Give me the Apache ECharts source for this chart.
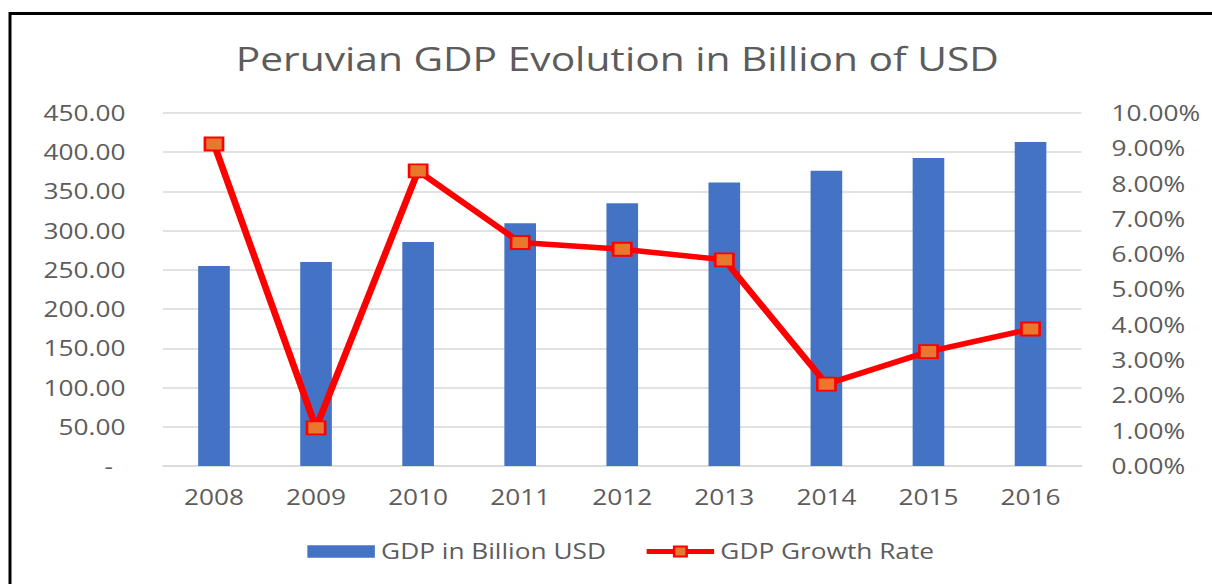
<!DOCTYPE html>
<html>
<head>
<meta charset="utf-8">
<script src="https://cdn.jsdelivr.net/npm/echarts@6/dist/echarts.min.js"></script>
<style>
  html, body { margin: 0; padding: 0; width: 1212px; height: 584px; overflow: hidden; background: #ffffff; }
  /* the chart is laid out in a narrower box and widened, giving the broad letterforms */
  #chart { width: 970px; height: 584px; transform: scaleX(1.2495); transform-origin: 0 0; }
</style>
</head>
<body>
<div id="chart"></div>
<script>
// Peru: GDP (billion USD) and yearly growth rate (%)
const years = ['2008', '2009', '2010', '2011', '2012', '2013', '2014', '2015', '2016'];
const gdpBillionUSD = [255, 260, 285.5, 309.5, 335, 361.5, 376.5, 392.5, 413];
const growthRatePct = [9.12, 1.08, 8.36, 6.33, 6.14, 5.84, 2.32, 3.24, 3.88];

// axis ranges
const gdpAxis = { min: 0, max: 450, interval: 50 };
const rateAxis = { min: 0, max: 10, interval: 1 };

const FONT = '"Open Sans", "Noto Sans", sans-serif';
const GREY = '#5c5c5c';

const chart = echarts.init(document.getElementById('chart'), null, { renderer: 'svg' });

chart.setOption({
  animation: false,
  backgroundColor: '#ffffff',
  textStyle: { fontFamily: FONT },
  title: {
    text: 'Peruvian GDP Evolution in Billion of USD',
    left: 489,
    top: 37,
    textAlign: 'center',
    textStyle: { fontFamily: FONT, fontSize: 32.6, fontWeight: 'normal', color: GREY }
  },
  legend: {
    left: 241,
    top: 536,
    itemWidth: 54,
    itemHeight: 12.5,
    itemGap: 30,
    textStyle: { fontFamily: FONT, fontSize: 21, color: GREY },
    lineStyle: { width: 5 },
    data: [
      { name: 'GDP in Billion USD', icon: 'rect' },
      { name: 'GDP Growth Rate' }
    ]
  },
  grid: { left: 130.4, right: 104.4, top: 113, bottom: 118 },
  xAxis: {
    type: 'category',
    data: years,
    axisTick: { show: false },
    axisLine: { lineStyle: { color: '#d9d9d9', width: 1.5 } },
    axisLabel: { color: GREY, fontFamily: FONT, fontSize: 21, margin: 21 }
  },
  yAxis: [
    {
      type: 'value',
      min: gdpAxis.min,
      max: gdpAxis.max,
      interval: gdpAxis.interval,
      axisLine: { show: false },
      axisTick: { show: false },
      splitLine: { lineStyle: { color: '#d9d9d9', width: 1.5 } },
      axisLabel: {
        color: GREY,
        fontFamily: FONT,
        fontSize: 21,
        margin: 30,
        formatter: v => (v === 0 ? '{dash|-}' : v.toFixed(2)),
        rich: { dash: { color: GREY, fontFamily: FONT, fontSize: 21, padding: [0, 10, 0, 0] } }
      }
    },
    {
      type: 'value',
      min: rateAxis.min,
      max: rateAxis.max,
      interval: rateAxis.interval,
      position: 'right',
      axisLine: { show: false },
      axisTick: { show: false },
      splitLine: { show: false },
      axisLabel: {
        color: GREY,
        fontFamily: FONT,
        fontSize: 21,
        margin: 24,
        formatter: v => v.toFixed(2) + '%'
      }
    }
  ],
  series: [
    {
      name: 'GDP in Billion USD',
      type: 'bar',
      yAxisIndex: 0,
      data: gdpBillionUSD,
      barWidth: '31%',
      itemStyle: { color: '#4472C4' }
    },
    {
      name: 'GDP Growth Rate',
      type: 'line',
      yAxisIndex: 1,
      data: growthRatePct,
      symbol: 'rect',
      symbolSize: [14.5, 13],
      lineStyle: { color: '#FF0000', width: 5.5 },
      itemStyle: { color: '#E8782E', borderColor: '#FF0000', borderWidth: 2 },
      z: 3
    }
  ],
  graphic: [
    // frame lines along the top and left edges
    { type: 'line', shape: { x1: 8, y1: 13.5, x2: 975, y2: 13.5 }, style: { stroke: '#000000', lineWidth: 3 }, silent: true },
    { type: 'line', shape: { x1: 8, y1: 12, x2: 8, y2: 590 }, style: { stroke: '#000000', lineWidth: 2.4 }, silent: true }
  ]
});
</script>
</body>
</html>
